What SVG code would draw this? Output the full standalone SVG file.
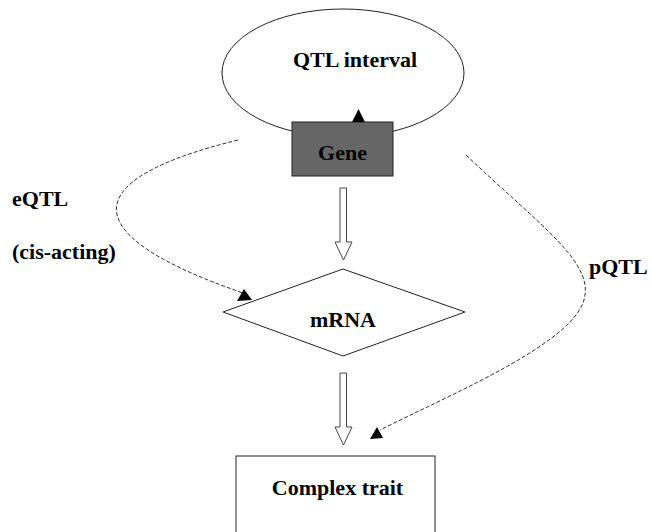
<svg xmlns="http://www.w3.org/2000/svg" width="652" height="532" viewBox="0 0 652 532">
<style>
text{font-family:"Liberation Serif","Times New Roman",serif;font-weight:bold;font-size:22px;fill:#000}
.shape{fill:#fff;stroke:#222;stroke-width:1}
.dash{fill:none;stroke:#333;stroke-width:1;stroke-dasharray:4 2}
.head{fill:#000}
.block{fill:#fff;stroke:#444;stroke-width:1}
</style>
<rect width="652" height="532" fill="#fff"/>
<g id="qtl-interval">
<ellipse class="shape" cx="343" cy="73" rx="121" ry="64"/>
<text x="355" y="67" text-anchor="middle">QTL interval</text>
</g>
<g id="gene">
<rect x="292" y="122" width="101" height="54" fill="#666" stroke="#222" stroke-width="1"/>
<text x="342.5" y="160" text-anchor="middle">Gene</text>
</g>
<g id="mrna">
<polygon class="shape" points="223,312 343,269 465,312 343,356"/>
<text x="343" y="327" text-anchor="middle">mRNA</text>
</g>
<g id="complex-trait">
<rect class="shape" x="236" y="456" width="199" height="90"/>
<text x="337.5" y="495" text-anchor="middle">Complex trait</text>
</g>
<g id="connectors">
<polygon class="head" points="358.5,109 352,122 365,122"/>
<polygon class="block" points="340,188 346.5,188 346.5,242 352,242 343.5,260 335,242 340,242"/>
<polygon class="block" points="340,373 346.5,373 346.5,427 352,427 343.5,445 335,427 340,427"/>
<path class="dash" d="M238,140 C75,180 75,235 243,293"/>
<polygon class="head" points="244,289 237,301 252,300"/>
<path class="dash" d="M466,155 C540,225 590,260 585,295 C580,340 460,390 380,430"/>
<polygon class="head" points="377,427 370,439 383,438"/>
</g>
<g id="labels">
<text x="12" y="206">eQTL</text>
<text x="12" y="259">(cis-acting)</text>
<text x="589" y="274">pQTL</text>
</g>
</svg>
